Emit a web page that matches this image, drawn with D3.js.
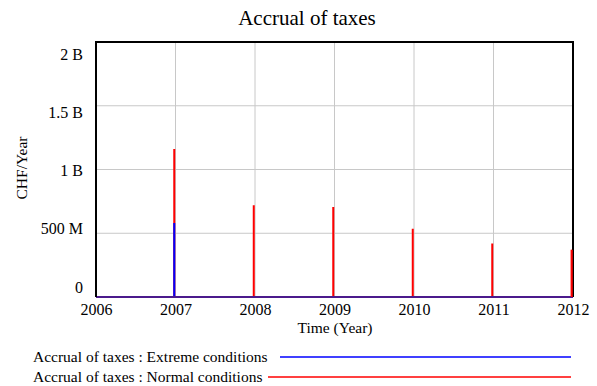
<!DOCTYPE html>
<html>
<head>
<meta charset="utf-8">
<script src="https://cdn.jsdelivr.net/npm/d3@7"></script>
<style>
  html, body { margin: 0; padding: 0; background: #fff; }
  svg { display: block; font-family: "Liberation Serif", "Times New Roman", serif; }
</style>
</head>
<body>
<svg id="chart" width="597" height="386"></svg>
<script>
// Tax accrual pulses, booked once per year just before each year turn
const spikeYears = [2007, 2008, 2009, 2010, 2011, 2012];
const normalValues = [1.16e9, 0.72e9, 0.705e9, 0.535e9, 0.42e9, 0.37e9];
const extremeValues = [0.58e9, 0, 0, 0, 0, 0];
const xTicks = [2006, 2007, 2008, 2009, 2010, 2011, 2012];
const yTicks = [0, 0.5e9, 1e9, 1.5e9, 2e9];
const yTickLabels = ["0", "500 M", "1 B", "1.5 B", "2 B"];
const seriesNames = ["Accrual of taxes : Extreme conditions", "Accrual of taxes : Normal conditions"];
const seriesColors = ["#0000ff", "#ff0000"];
const timeStep = 1 / 64;

const svg = d3.select("#chart");
const m = { left: 96, right: 573, top: 42, bottom: 297 };

const x = d3.scaleLinear().domain([2006, 2012]).range([m.left, m.right]);
const y = d3.scaleLinear().domain([0, 2e9]).range([m.bottom, m.top]);
// tick labels are spread evenly inside the frame, a little off the grid lines
const yLabel = d3.scaleLinear().domain([0, 2e9]).range([287, 54]);

// grid
svg.append("g").selectAll("line").data(xTicks.slice(1, -1)).join("line")
  .attr("x1", d => x(d)).attr("x2", d => x(d))
  .attr("y1", m.top).attr("y2", m.bottom)
  .attr("stroke", "#c8c8c8").attr("stroke-width", 1);
svg.append("g").selectAll("line").data(yTicks.slice(1, -1)).join("line")
  .attr("x1", m.left).attr("x2", m.right)
  .attr("y1", d => y(d)).attr("y2", d => y(d))
  .attr("stroke", "#c8c8c8").attr("stroke-width", 1);

// pulse series: zero everywhere, a one-step spike just before each year
function pulseSeries(values) {
  const pts = [[2006, 0]];
  spikeYears.forEach((yr, i) => {
    const t = yr - timeStep;
    pts.push([t, 0], [t, values[i]], [t, 0]);
  });
  pts.push([2012, 0]);
  return pts;
}

const line = d3.line().x(d => x(d[0])).y(d => y(d[1]));

svg.append("path").datum(pulseSeries(normalValues))
  .attr("d", line).attr("fill", "none")
  .attr("stroke", seriesColors[1]).attr("stroke-width", 2);
svg.append("path").datum(pulseSeries(extremeValues))
  .attr("d", line).attr("fill", "none")
  .attr("stroke", seriesColors[0]).attr("stroke-width", 2);

// purple baseline where both series overlap at zero
svg.append("line")
  .attr("x1", m.left).attr("x2", m.right)
  .attr("y1", y(0)).attr("y2", y(0))
  .attr("stroke", "#4b1a8c").attr("stroke-width", 2);

// frame: left, top, right in black
svg.append("path")
  .attr("d", `M${m.left},${m.bottom}V${m.top}H${m.right}V${m.bottom}`)
  .attr("fill", "none").attr("stroke", "#000").attr("stroke-width", 2);
// last spike sits on the right edge
svg.append("line")
  .attr("x1", x(2012 - timeStep)).attr("x2", x(2012 - timeStep))
  .attr("y1", y(0)).attr("y2", y(normalValues[5]))
  .attr("stroke", seriesColors[1]).attr("stroke-width", 2);

// axis labels
const xAxis = d3.axisBottom(x).tickValues(xTicks).tickFormat(d3.format("d")).tickSize(0).tickPadding(7);
const gx = svg.append("g").attr("transform", `translate(0,${m.bottom})`).call(xAxis);
gx.select(".domain").remove();
gx.selectAll("text").attr("font-size", 16).attr("font-family", "Liberation Serif").attr("fill", "#000");

const yAxis = d3.axisLeft(yLabel).tickValues(yTicks).tickFormat((d, i) => yTickLabels[i]).tickSize(0).tickPadding(13);
const gy = svg.append("g").attr("transform", `translate(${m.left},0)`).call(yAxis);
gy.select(".domain").remove();
gy.selectAll("text").attr("font-size", 16).attr("font-family", "Liberation Serif").attr("fill", "#000");

// title and axis titles
svg.append("text").attr("x", 307).attr("y", 25).attr("text-anchor", "middle")
  .attr("font-size", 21).text("Accrual of taxes");
svg.append("text").attr("x", 335).attr("y", 333).attr("text-anchor", "middle")
  .attr("font-size", 15.5).text("Time (Year)");
svg.append("text").attr("transform", "translate(27,168) rotate(-90)").attr("text-anchor", "middle")
  .attr("font-size", 15.5).text("CHF/Year");

// legend
const legendRows = [
  { y: 357, x1: 280, x2: 571 },
  { y: 377, x1: 268, x2: 571 }
];
seriesNames.forEach((name, i) => {
  svg.append("text").attr("x", 33).attr("y", legendRows[i].y + 5)
    .attr("font-size", 15.5).text(name);
  svg.append("line")
    .attr("x1", legendRows[i].x1).attr("x2", legendRows[i].x2)
    .attr("y1", legendRows[i].y).attr("y2", legendRows[i].y)
    .attr("stroke", seriesColors[i]).attr("stroke-width", 1.5);
});
</script>
</body>
</html>
